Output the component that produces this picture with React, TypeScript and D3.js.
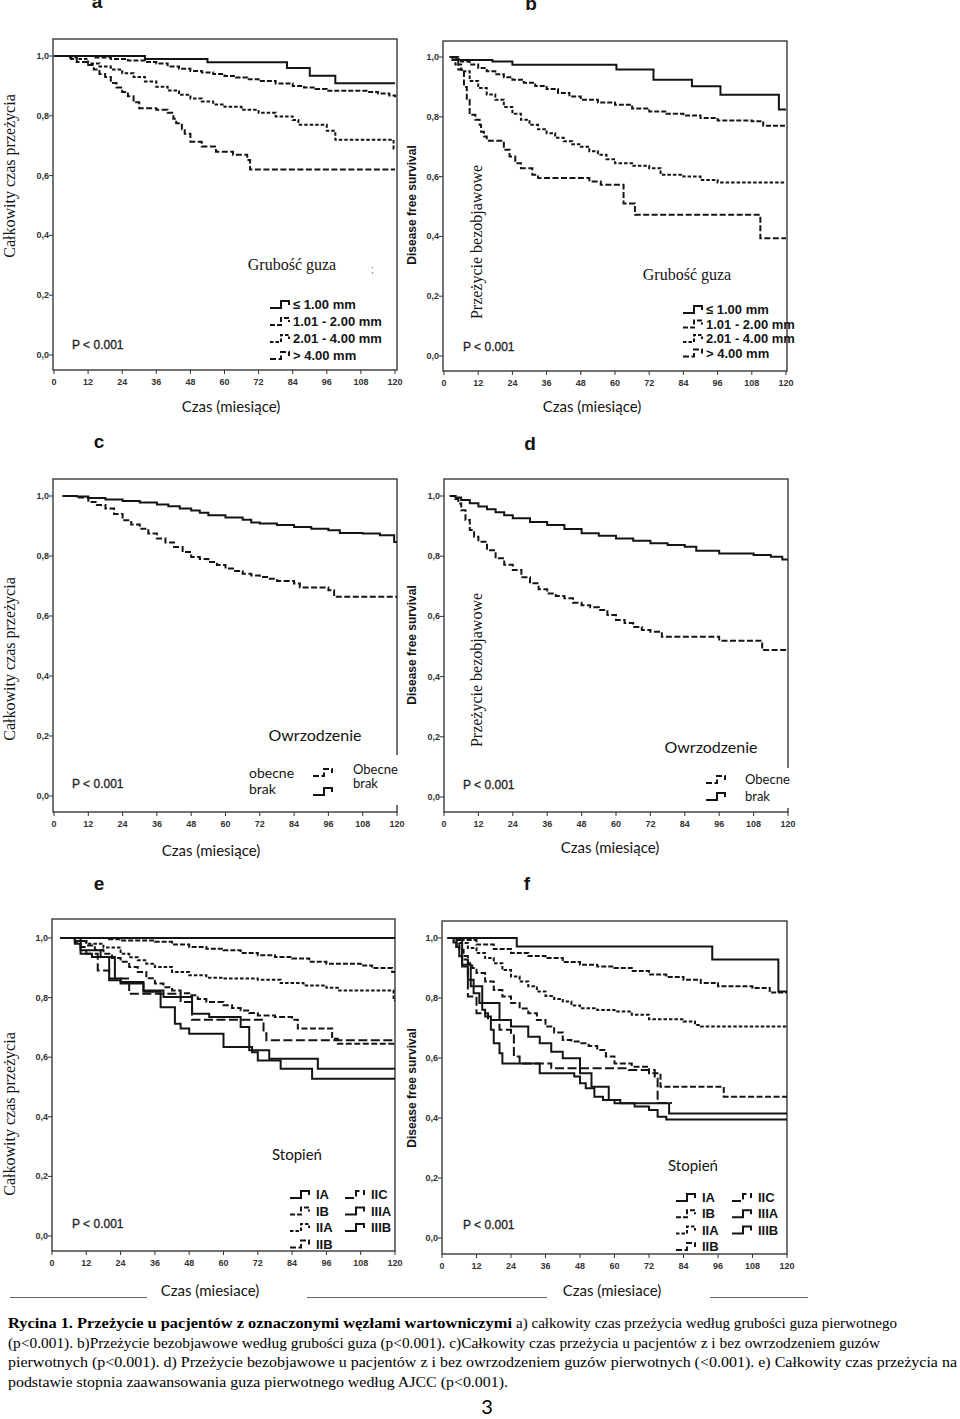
import React from "react";
import * as d3 from "d3";

type Pt = [number, number];

// ---------- shared ticks ----------
const MONTH_TICKS = [0, 12, 24, 36, 48, 60, 72, 84, 96, 108, 120];
const SURV_TICKS = [0, 0.2, 0.4, 0.6, 0.8, 1.0];

// ---------- panel a : overall survival by thickness ----------
const aT1: Pt[] = [[0,1],[32,0.99],[54,0.979],[82,0.96],[90,0.934],[99,0.909],[120,0.909]];
const aT2: Pt[] = [[0,1],[14,0.995],[20,0.99],[26,0.985],[32,0.98],[36,0.975],[40,0.965],[44,0.957],[48,0.95],[52,0.945],[56,0.94],[60,0.933],[64,0.928],[68,0.922],[72,0.916],[78,0.908],[84,0.9],[88,0.895],[92,0.89],[96,0.884],[110,0.88],[114,0.875],[118,0.868],[120,0.862]];
const aT3: Pt[] = [[0,1],[5,0.995],[8,0.99],[12,0.975],[16,0.965],[20,0.955],[24,0.942],[28,0.93],[32,0.915],[36,0.897],[40,0.885],[44,0.87],[48,0.858],[52,0.848],[56,0.838],[60,0.83],[66,0.82],[72,0.81],[78,0.798],[84,0.786],[86,0.77],[96,0.75],[99,0.72],[119.5,0.69],[120,0.69]];
const aT4: Pt[] = [[0,1],[6,0.99],[8,0.98],[12,0.97],[14,0.955],[16,0.94],[18,0.93],[20,0.91],[22,0.895],[24,0.88],[26,0.865],[28,0.845],[30,0.825],[36,0.82],[40,0.81],[42,0.79],[43,0.775],[45,0.755],[46,0.74],[48,0.713],[52,0.697],[57,0.68],[63,0.67],[68,0.652],[69,0.62],[120,0.62]];

// ---------- panel b : disease free survival by thickness ----------
const bT1: Pt[] = [[2,1],[3,0.99],[17,0.985],[24,0.974],[60.5,0.958],[73.5,0.924],[87,0.902],[97,0.874],[117.5,0.824],[120,0.824]];
const bT2: Pt[] = [[2,1],[4,0.993],[6,0.985],[9,0.975],[12,0.963],[15,0.952],[18,0.942],[21,0.932],[24,0.924],[28,0.914],[32,0.903],[36,0.893],[40,0.88],[44,0.868],[48,0.857],[54,0.848],[60,0.84],[66,0.828],[72,0.818],[78,0.81],[84,0.804],[90,0.796],[96,0.788],[108,0.785],[112,0.77],[120,0.77]];
const bT3: Pt[] = [[2,1],[3,0.99],[4,0.975],[6,0.952],[9,0.92],[12,0.896],[15,0.875],[18,0.857],[21,0.833],[24,0.81],[27,0.79],[30,0.773],[33,0.758],[36,0.745],[39,0.73],[42,0.718],[45,0.708],[48,0.7],[51,0.685],[54,0.673],[57,0.658],[60,0.645],[66,0.636],[72,0.628],[76,0.606],[84,0.6],[90,0.589],[96,0.58],[120,0.58]];
const bT4: Pt[] = [[3,1],[5,0.958],[7,0.9],[8,0.857],[9,0.807],[11,0.79],[12.5,0.773],[13,0.75],[14,0.734],[15,0.72],[21,0.69],[23,0.667],[25,0.645],[27,0.628],[31,0.606],[33,0.595],[51,0.584],[55,0.573],[63,0.51],[67,0.472],[111,0.394],[120,0.394]];

// ---------- panel c : overall survival by ulceration ----------
const cPresent: Pt[] = [[3,1],[8,0.995],[12,0.98],[15,0.97],[18,0.958],[21,0.94],[24,0.919],[27,0.905],[30,0.891],[33,0.875],[36,0.858],[39,0.845],[42,0.83],[45,0.813],[48,0.797],[51,0.79],[54,0.78],[57,0.77],[60,0.758],[63,0.75],[66,0.741],[69,0.735],[72,0.73],[75,0.724],[78,0.717],[84,0.708],[86,0.695],[96,0.686],[98,0.664],[120,0.664]];
const cAbsent: Pt[] = [[3,1],[8,0.998],[12,0.993],[18,0.988],[24,0.983],[30,0.978],[36,0.972],[40,0.966],[44,0.958],[48,0.952],[51,0.944],[54,0.936],[60,0.928],[66,0.921],[69,0.912],[72,0.908],[78,0.903],[84,0.897],[90,0.891],[96,0.886],[100,0.877],[108,0.875],[114,0.869],[119,0.847],[120,0.847]];

// ---------- panel d : disease free survival by ulceration ----------
const dPresent: Pt[] = [[2,1],[4,0.99],[5,0.975],[6,0.953],[7.5,0.92],[9,0.887],[10.5,0.865],[12,0.848],[15,0.82],[18,0.793],[21,0.772],[24,0.754],[27,0.73],[30,0.71],[33,0.69],[36,0.676],[39,0.668],[42,0.66],[45,0.645],[48,0.637],[51,0.63],[54,0.621],[57,0.605],[60,0.588],[63,0.578],[66,0.565],[69,0.555],[72,0.549],[76,0.532],[96,0.519],[111,0.488],[120,0.488]];
const dAbsent: Pt[] = [[2,1],[4,0.995],[6,0.987],[9,0.976],[12,0.965],[15,0.956],[18,0.946],[21,0.936],[24,0.926],[30,0.914],[36,0.904],[42,0.89],[48,0.876],[54,0.868],[60,0.859],[66,0.851],[72,0.843],[78,0.837],[84,0.831],[88,0.818],[96,0.809],[108,0.804],[114,0.798],[118,0.789],[120,0.789]];

// ---------- panel e : overall survival by AJCC stage ----------
const eIA: Pt[] = [[3,1],[120,1]];
const eIB: Pt[] = [[3,1],[20,0.996],[24,0.992],[36,0.987],[42,0.978],[48,0.97],[54,0.964],[60,0.959],[66,0.95],[72,0.942],[78,0.936],[84,0.931],[90,0.92],[96,0.914],[108,0.908],[112,0.899],[119,0.886],[120,0.886]];
const eIIA: Pt[] = [[3,1],[8,0.99],[12,0.981],[18,0.968],[24,0.947],[27,0.935],[30,0.925],[33,0.914],[36,0.903],[42,0.886],[48,0.875],[54,0.867],[60,0.864],[72,0.86],[80,0.849],[88,0.841],[96,0.833],[100,0.824],[119.5,0.79],[120,0.79]];
const eIIB: Pt[] = [[3,1],[8,0.99],[12,0.975],[15,0.96],[18,0.947],[21,0.933],[24,0.92],[27,0.903],[30,0.886],[33,0.865],[36,0.847],[39,0.835],[42,0.824],[45,0.815],[48,0.808],[51,0.795],[54,0.785],[60,0.774],[63,0.765],[66,0.757],[69,0.748],[72,0.74],[78,0.735],[84,0.726],[86,0.696],[98,0.662],[100,0.645],[120,0.645]];
const eIIC: Pt[] = [[3,1],[8,0.985],[10,0.97],[12,0.947],[16,0.891],[20,0.864],[27,0.813],[45,0.785],[49,0.726],[74,0.68],[75,0.657],[120,0.657]];
const eIIIA: Pt[] = [[3,1],[8,0.981],[10,0.947],[14,0.936],[20,0.858],[24,0.847],[32,0.824],[39,0.802],[49,0.746],[55,0.735],[66,0.701],[69,0.623],[76,0.595],[93,0.561],[120,0.561]];
const eIIIB: Pt[] = [[3,1],[10,0.959],[17,0.936],[22,0.864],[24,0.852],[32,0.82],[38,0.768],[43,0.712],[45,0.696],[48,0.679],[60,0.634],[70,0.617],[72,0.589],[80,0.561],[91,0.528],[120,0.528]];

// ---------- panel f : disease free survival by AJCC stage ----------
const fIA: Pt[] = [[2,1],[26,0.972],[94,0.928],[117,0.822],[120,0.822]];
const fIB: Pt[] = [[2,1],[6,0.993],[12,0.978],[18,0.963],[24,0.95],[30,0.94],[36,0.933],[42,0.92],[48,0.911],[54,0.905],[60,0.9],[66,0.89],[72,0.878],[78,0.87],[84,0.861],[90,0.85],[96,0.839],[108,0.833],[114,0.818],[120,0.818]];
const fIIA: Pt[] = [[2,1],[4,0.993],[6,0.983],[9,0.967],[12,0.95],[15,0.933],[18,0.916],[21,0.893],[24,0.872],[27,0.855],[30,0.839],[33,0.822],[36,0.807],[39,0.797],[42,0.788],[45,0.775],[48,0.766],[54,0.76],[60,0.755],[66,0.744],[72,0.729],[84,0.722],[88,0.71],[90,0.705],[120,0.705]];
const fIIB: Pt[] = [[2,1],[4,0.985],[6,0.961],[7.5,0.94],[9,0.916],[10.5,0.9],[12,0.883],[15,0.855],[18,0.827],[21,0.805],[24,0.783],[27,0.765],[30,0.749],[33,0.727],[36,0.705],[39,0.685],[42,0.66],[45,0.655],[48,0.649],[51,0.64],[54,0.627],[57,0.605],[60,0.582],[66,0.571],[72,0.549],[76,0.504],[98,0.471],[120,0.471]];
const fIIC: Pt[] = [[2,1],[5,0.97],[7,0.928],[9,0.805],[12,0.749],[16,0.727],[20,0.694],[24,0.683],[25,0.605],[27,0.582],[38,0.566],[65,0.56],[74,0.532],[75,0.45],[80,0.45]];
const fIIIA: Pt[] = [[2,1],[5,0.972],[6,0.939],[7,0.905],[9,0.861],[11,0.816],[13,0.783],[14,0.761],[15,0.738],[17,0.694],[18,0.649],[20,0.616],[21,0.582],[34,0.549],[46,0.538],[48,0.516],[50,0.499],[53,0.471],[56,0.46],[60,0.449],[67,0.438],[72,0.427],[75,0.404],[78,0.395],[120,0.395]];
const fIIIB: Pt[] = [[2,1],[7,0.911],[10,0.839],[14,0.783],[20,0.727],[24,0.705],[30,0.671],[34,0.649],[38,0.621],[42,0.599],[48,0.549],[52,0.504],[58,0.46],[62,0.449],[79,0.415],[120,0.415]];

// ---------- labels ----------
const thicknessLabels = ["≤ 1.00 mm", "1.01 - 2.00 mm", "2.01 - 4.00 mm", "> 4.00 mm"];
const stageLabels = ["IA", "IB", "IIA", "IIB", "IIC", "IIIA", "IIIB"];
const captionLines = [
  "(p<0.001). b)Przeżycie bezobjawowe według grubości guza (p<0.001). c)Całkowity czas przeżycia u pacjentów z i bez owrzodzeniem guzów",
  "pierwotnych (p<0.001). d) Przeżycie bezobjawowe u pacjentów  z i bez owrzodzeniem guzów pierwotnych (<0.001). e) Całkowity czas przeżycia na",
  "podstawie stopnia zaawansowania guza pierwotnego według AJCC (p<0.001).",
];

// ---------- styles ----------
const SANS = "'Liberation Sans', Arial, sans-serif";
const SERIF = "'Liberation Serif', 'Times New Roman', serif";
const HUM = "Lato, 'Open Sans', sans-serif";
const INK = "#141414";
const DASH: Record<string, string | undefined> = {
  solid: undefined,
  d1: "5,2",
  d2: "3.5,2",
  d3: "6,2.5",
  long: "9,3.5",
};

interface Layout { x: [number, number]; y: [number, number]; frame: [number, number, number, number]; }
interface Series { data: Pt[]; dash: string; }

const LAYOUT_A: Layout = { x: [54, 395], y: [355, 56], frame: [53, 39, 397, 370] };
const LAYOUT_B: Layout = { x: [444, 786], y: [356, 57], frame: [443, 41, 787, 371] };
const LAYOUT_C: Layout = { x: [54, 397], y: [796, 496], frame: [53, 479, 397, 812] };
const LAYOUT_D: Layout = { x: [444, 788], y: [797, 496], frame: [444, 479, 788, 812] };
const LAYOUT_E: Layout = { x: [52, 395], y: [1236, 938], frame: [52, 919, 395, 1251] };
const LAYOUT_F: Layout = { x: [442, 787], y: [1238, 938], frame: [442, 921, 787, 1254] };

const thicknessStyles = ["solid", "d1", "d2", "d3"];
const stageStyles = ["solid", "d1", "d2", "d3", "long", "solid", "solid"];

function glyph(sx: number, sy: number) {
  return `M${sx},${sy + 3}H${sx + 11}V${sy - 4}H${sx + 19}V${sy}`;
}

function KMPanel({ layout, series }: { layout: Layout; series: Series[] }) {
  const [l, t, r, b] = layout.frame;
  const x = d3.scaleLinear().domain([0, 120]).range(layout.x);
  const y = d3.scaleLinear().domain([0, 1]).range(layout.y);
  const line = d3
    .line<Pt>()
    .x((d) => x(d[0]))
    .y((d) => y(d[1]))
    .curve(d3.curveStepAfter);
  return (
    <g>
      <rect x={l} y={t} width={r - l} height={b - t} fill="none" stroke="#3a3a3a" strokeWidth={1.4} />
      {SURV_TICKS.map((v) => (
        <g key={"y" + v}>
          <line x1={l - 4} x2={l} y1={y(v)} y2={y(v)} stroke="#333" strokeWidth={1} />
          <text x={l - 4} y={y(v) + 3} textAnchor="end" fontSize={9} fontWeight="bold" fontFamily={SANS} fill="#333">
            {v.toFixed(1).replace(".", ",")}
          </text>
        </g>
      ))}
      {MONTH_TICKS.map((m) => (
        <g key={"x" + m}>
          <line x1={x(m)} x2={x(m)} y1={b} y2={b + 4} stroke="#333" strokeWidth={1} />
          <text x={x(m)} y={b + 15} textAnchor="middle" fontSize={9} fontWeight="bold" fontFamily={SANS} fill="#333">
            {m}
          </text>
        </g>
      ))}
      {series.map((s, i) => (
        <path key={i} d={line(s.data) || ""} fill="none" stroke={INK} strokeWidth={2} strokeDasharray={DASH[s.dash]} />
      ))}
    </g>
  );
}

function Legend({ items }: { items: { sx: number; sy: number; tx: number; label: string; dash: string; size: number; family: string; weight: string }[] }) {
  return (
    <g>
      {items.map((it, i) => (
        <g key={i}>
          <path d={glyph(it.sx, it.sy)} fill="none" stroke={INK} strokeWidth={2} strokeDasharray={DASH[it.dash]} />
          {it.label && (
            <text x={it.tx} y={it.sy + 4} fontSize={it.size} fontFamily={it.family} fontWeight={it.weight} fill={INK}>
              {it.label}
            </text>
          )}
        </g>
      ))}
    </g>
  );
}

function PValue({ x, y }: { x: number; y: number }) {
  return (
    <text x={x} y={y} fontSize={12} fontFamily={SANS} fill="#222" stroke="#222" strokeWidth={0.3}>
      P &lt; 0.001
    </text>
  );
}

function RotLabel({ x, y, text, size, family, weight }: { x: number; y: number; text: string; size: number; family: string; weight?: string }) {
  return (
    <text transform={`translate(${x},${y}) rotate(-90)`} textAnchor="middle" fontSize={size} fontFamily={family} fontWeight={weight || "normal"} fill={INK}>
      {text}
    </text>
  );
}

function Letter({ x, y, c }: { x: number; y: number; c: string }) {
  return (
    <text x={x} y={y} textAnchor="middle" fontSize={19} fontWeight="bold" fontFamily={SANS} fill={INK}>
      {c}
    </text>
  );
}

function XTitle({ x, y, text }: { x: number; y: number; text: string }) {
  return (
    <text x={x} y={y} textAnchor="middle" fontSize={15} fontFamily={HUM} fill={INK}>
      {text}
    </text>
  );
}

export default function App() {
  const thickA = [aT1, aT2, aT3, aT4].map((d, i) => ({ data: d, dash: thicknessStyles[i] }));
  const thickB = [bT1, bT2, bT3, bT4].map((d, i) => ({ data: d, dash: thicknessStyles[i] }));
  const ulcC = [{ data: cPresent, dash: "d3" }, { data: cAbsent, dash: "solid" }];
  const ulcD = [{ data: dPresent, dash: "d3" }, { data: dAbsent, dash: "solid" }];
  const stE = [eIA, eIB, eIIA, eIIB, eIIC, eIIIA, eIIIB].map((d, i) => ({ data: d, dash: stageStyles[i] }));
  const stF = [fIA, fIB, fIIA, fIIB, fIIC, fIIIA, fIIIB].map((d, i) => ({ data: d, dash: stageStyles[i] }));

  const legThick = (sx: number, y0: number, dy: number) =>
    thicknessLabels.map((label, i) => ({ sx, sy: y0 + i * dy, tx: sx + 23, label, dash: thicknessStyles[i], size: 13, family: SANS, weight: "bold" }));
  const legStage = (c1: number, c2: number, y0: number, dy: number) =>
    stageLabels.map((label, i) => {
      const col = i < 4 ? 0 : 1;
      const row = i < 4 ? i : i - 4;
      const sx = col === 0 ? c1 : c2;
      return { sx, sy: y0 + row * dy, tx: sx + 26, label, dash: stageStyles[i], size: 13, family: SANS, weight: "bold" };
    });

  return (
    <svg width={960} height={1419} style={{ position: "absolute", left: 0, top: 0, background: "#fff" }}>
      <rect x={0} y={0} width={960} height={1419} fill="#fff" />

      {/* panel a */}
      <Letter x={97} y={8} c="a" />
      <KMPanel layout={LAYOUT_A} series={thickA} />
      <RotLabel x={15} y={176} text="Całkowity czas przeżycia" size={16} family={SERIF} />
      <text x={292} y={270} textAnchor="middle" fontSize={16} fontFamily={SERIF} fill={INK}>Grubość guza</text>
      <text x={371} y={273} fontSize={10} fontFamily={SANS} fill="#777">;</text>
      <Legend items={legThick(270, 305, 17)} />
      <PValue x={72} y={349} />
      <XTitle x={231} y={412} text="Czas (miesiące)" />

      {/* panel b */}
      <Letter x={531} y={10} c="b" />
      <KMPanel layout={LAYOUT_B} series={thickB} />
      <RotLabel x={416} y={205} text="Disease free survival" size={12} family={SANS} weight="bold" />
      <RotLabel x={482} y={242} text="Przeżycie bezobjawowe" size={16} family={SERIF} />
      <text x={687} y={280} textAnchor="middle" fontSize={16} fontFamily={SERIF} fill={INK}>Grubość guza</text>
      <Legend items={legThick(683, 310, 14.5)} />
      <PValue x={463} y={351} />
      <XTitle x={592} y={412} text="Czas (miesiące)" />

      {/* panel c */}
      <Letter x={99} y={448} c="c" />
      <KMPanel layout={LAYOUT_C} series={ulcC} />
      <rect x={394} y={755} width={6} height={50} fill="#fff" />
      <RotLabel x={15} y={659} text="Całkowity czas przeżycia" size={16} family={SERIF} />
      <text x={315} y={741} textAnchor="middle" fontSize={16} fontFamily={HUM} fill={INK}>Owrzodzenie</text>
      <text x={249} y={778} fontSize={14} fontFamily={HUM} fill={INK}>obecne</text>
      <text x={249} y={794} fontSize={14} fontFamily={HUM} fill={INK}>brak</text>
      <Legend items={[
        { sx: 313, sy: 773, tx: 0, label: "", dash: "d3", size: 13, family: HUM, weight: "normal" },
        { sx: 313, sy: 792, tx: 0, label: "", dash: "solid", size: 13, family: HUM, weight: "normal" },
      ]} />
      <text x={353} y={774} fontSize={13} fontFamily={HUM} fill={INK}>Obecne</text>
      <text x={353} y={788} fontSize={13} fontFamily={HUM} fill={INK}>brak</text>
      <PValue x={72} y={788} />
      <XTitle x={211} y={856} text="Czas (miesiące)" />

      {/* panel d */}
      <Letter x={530} y={450} c="d" />
      <KMPanel layout={LAYOUT_D} series={ulcD} />
      <rect x={785} y={768} width={6} height={40} fill="#fff" />
      <RotLabel x={416} y={645} text="Disease free survival" size={12} family={SANS} weight="bold" />
      <RotLabel x={482} y={670} text="Przeżycie bezobjawowe" size={16} family={SERIF} />
      <text x={711} y={753} textAnchor="middle" fontSize={16} fontFamily={HUM} fill={INK}>Owrzodzenie</text>
      <Legend items={[
        { sx: 706, sy: 780, tx: 745, label: "Obecne", dash: "d3", size: 13, family: HUM, weight: "normal" },
        { sx: 706, sy: 797, tx: 745, label: "brak", dash: "solid", size: 13, family: HUM, weight: "normal" },
      ]} />
      <PValue x={463} y={789} />
      <XTitle x={610} y={853} text="Czas (miesiące)" />

      {/* panel e */}
      <Letter x={99} y={890} c="e" />
      <KMPanel layout={LAYOUT_E} series={stE} />
      <RotLabel x={15} y={1114} text="Całkowity czas przeżycia" size={16} family={SERIF} />
      <text x={297} y={1160} textAnchor="middle" fontSize={15} fontFamily={HUM} fill={INK}>Stopień</text>
      <Legend items={legStage(290, 345, 1195, 16.5)} />
      <PValue x={72} y={1228} />
      <XTitle x={210} y={1296} text="Czas (miesiace)" />

      {/* panel f */}
      <Letter x={527} y={890} c="f" />
      <KMPanel layout={LAYOUT_F} series={stF} />
      <RotLabel x={416} y={1088} text="Disease free survival" size={12} family={SANS} weight="bold" />
      <text x={693} y={1171} textAnchor="middle" fontSize={15} fontFamily={HUM} fill={INK}>Stopień</text>
      <Legend items={legStage(676, 732, 1198, 16.3)} />
      <PValue x={463} y={1229} />
      <XTitle x={612} y={1296} text="Czas (miesiace)" />

      {/* separator lines */}
      <line x1={10} x2={147} y1={1297.5} y2={1297.5} stroke="#666" strokeWidth={1} />
      <line x1={307} x2={547} y1={1297.5} y2={1297.5} stroke="#666" strokeWidth={1} />
      <line x1={710} x2={808} y1={1297.5} y2={1297.5} stroke="#666" strokeWidth={1} />

      {/* caption */}
      <text x={8} y={1328} fontSize={15.5} fontFamily={SERIF} fontWeight="bold" fill="#000" textLength={504} lengthAdjust="spacingAndGlyphs">
        Rycina 1. Przeżycie u pacjentów z oznaczonymi węzłami wartowniczymi
      </text>
      <text x={516} y={1328} fontSize={15.5} fontFamily={SERIF} fill="#000" textLength={381} lengthAdjust="spacingAndGlyphs">
        a) całkowity czas przeżycia według grubości guza pierwotnego
      </text>
      <text x={8} y={1347.5} fontSize={15.5} fontFamily={SERIF} fill="#000" textLength={872} lengthAdjust="spacingAndGlyphs">
        {captionLines[0]}
      </text>
      <text x={8} y={1367} fontSize={15.5} fontFamily={SERIF} fill="#000" textLength={949} lengthAdjust="spacingAndGlyphs">
        {captionLines[1]}
      </text>
      <text x={8} y={1386.5} fontSize={15.5} fontFamily={SERIF} fill="#000" textLength={500} lengthAdjust="spacingAndGlyphs">
        {captionLines[2]}
      </text>
      <text x={487} y={1414} textAnchor="middle" fontSize={20} fontFamily={HUM} fill="#000">3</text>
    </svg>
  );
}
